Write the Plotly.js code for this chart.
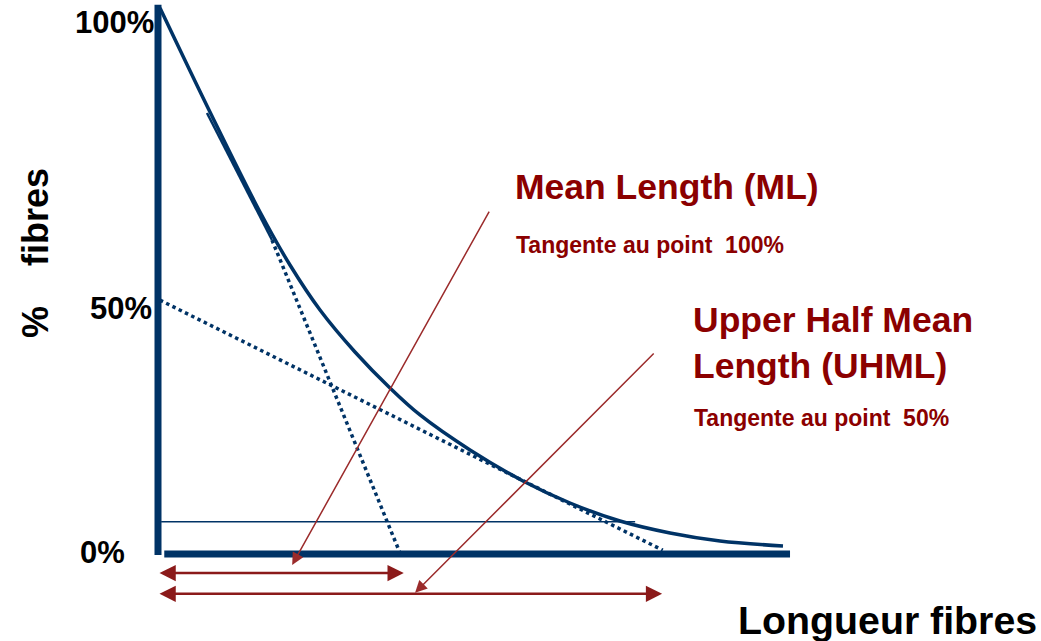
<!DOCTYPE html>
<html>
<head>
<meta charset="utf-8">
<script src="https://cdn.plot.ly/plotly-3.0.1.min.js"></script>
<style>html,body{margin:0;padding:0;background:#fff;}#chart{width:1041px;height:641px;}</style>
</head>
<body>
<div id="chart"></div>
<script>
// ---- Data (length units on x, % fibres on y) ----
const curveX = [0.32, 8.29, 16.27, 21.05, 25.84, 31.42, 37.0, 41.79, 49.76, 58.21, 65.71, 73.68, 81.66, 89.63, 99.68];
const curveY = [100, 80.95, 62.64, 52.93, 44.69, 37.0, 30.4, 25.46, 19.05, 13.37, 9.34, 6.04, 3.85, 2.38, 1.47];

const mlTangentX = [7.81, 18.18, 38.6];
const mlTangentY = [80.77, 57.51, 0.18];

const uhmlTangentX = [0.3, 80.5];
const uhmlTangentY = [46.5, 0.7];

const refLineX = [0.5, 76.1];
const refLineY = [5.9, 5.9];

const axisYLineX = [0, 0];
const axisYLineY = [-0.2, 100.6];
const axisXLineX = [1.0, 100.8];
const axisXLineY = [0, 0];

const mlValue = 39.2;
const uhmlValue = 80.4;
const mlArrowLevel = -3.5;
const uhmlArrowLevel = -7.3;

const mlPointerFrom = [52.95, 63.0];
const mlPointerTo = [21.4, -2.0];
const uhmlPointerFrom = [79.3, 37.0];
const uhmlPointerTo = [41.0, -7.1];

const yTickLabels = ['100%', '50%', '0%'];
const labels = {
  ml: 'Mean Length (ML)',
  mlSub: 'Tangente au point\u00a0 100%',
  uhml: 'Upper Half Mean<br>Length (UHML)',
  uhmlSub: 'Tangente au point\u00a0 50%',
  xTitle: 'Longueur fibres',
  yTitle: '%\u00a0\u00a0\u00a0 fibres'
};

// ---- Styles ----
const W = 1041, H = 641;
const navy = '#003366';
const darkRed = '#8b0000';
const arrowRed = '#8b1a1a';
const FONT = 'Arial, "Liberation Sans", sans-serif';
const px = v => v / W;
const py = v => 1 - v / H;

const traces = [
  {x: axisYLineX, y: axisYLineY, mode: 'lines', line: {color: navy, width: 7}},
  {x: axisXLineX, y: axisXLineY, mode: 'lines', line: {color: navy, width: 7}},
  {x: refLineX, y: refLineY, mode: 'lines', line: {color: navy, width: 1.5}},
  {x: uhmlTangentX, y: uhmlTangentY, mode: 'lines', line: {color: navy, width: 3.5, dash: 'dot'}},
  {x: mlTangentX.slice(1), y: mlTangentY.slice(1), mode: 'lines', line: {color: navy, width: 3.5, dash: 'dot'}},
  {x: mlTangentX.slice(0, 2), y: mlTangentY.slice(0, 2), mode: 'lines', line: {color: navy, width: 2.5}},
  {x: curveX, y: curveY, mode: 'lines', line: {color: navy, width: 3.5, shape: 'spline', smoothing: 1}}
];

function arrow(toX, toY, fromX, fromY, opts) {
  return Object.assign({
    x: toX, y: toY, ax: fromX, ay: fromY,
    xref: 'x', yref: 'y', axref: 'x', ayref: 'y',
    text: '', showarrow: true, arrowcolor: arrowRed,
    arrowhead: 2, arrowsize: 1.6, arrowwidth: 1.5, standoff: 0, startstandoff: 0
  }, opts || {});
}

function txt(text, x, y, size, color, xanchor, extra) {
  return Object.assign({
    text: '<b>' + text + '</b>', x: px(x), y: py(y), xref: 'paper', yref: 'paper',
    showarrow: false, xanchor: xanchor || 'left', yanchor: 'middle', align: 'left',
    font: {family: FONT, size: size, color: color}
  }, extra || {});
}

const annotations = [
  arrow(mlPointerTo[0], mlPointerTo[1], mlPointerFrom[0], mlPointerFrom[1], {arrowcolor: '#9b2b2b'}),
  arrow(uhmlPointerTo[0], uhmlPointerTo[1], uhmlPointerFrom[0], uhmlPointerFrom[1], {arrowcolor: '#9b2b2b'}),
  arrow(mlValue, mlArrowLevel, 0, mlArrowLevel, {arrowside: 'end+start', startarrowhead: 2, arrowwidth: 2.5, arrowsize: 1.3, startarrowsize: 1.3}),
  arrow(uhmlValue, uhmlArrowLevel, 0, uhmlArrowLevel, {arrowside: 'end+start', startarrowhead: 2, arrowwidth: 2.5, arrowsize: 1.3, startarrowsize: 1.3}),
  txt(yTickLabels[0], 156, 23, 31, '#000', 'right'),
  txt(yTickLabels[1], 154, 309, 31, '#000', 'right'),
  txt(yTickLabels[2], 127, 552, 31, '#000', 'right'),
  txt(labels.ml, 513, 187, 35.5, darkRed),
  txt(labels.mlSub, 514, 245, 23, darkRed),
  txt(labels.uhml, 691, 343, 35.5, darkRed),
  txt(labels.uhmlSub, 692, 418, 23, darkRed),
  txt(labels.xTitle, 736, 620, 39.3, '#000'),
  txt(labels.yTitle, 35, 253, 36, '#000', 'center', {textangle: -90})
];

const layout = {
  width: W, height: H, autosize: false,
  margin: {l: 0, r: 0, t: 0, b: 0, pad: 0},
  paper_bgcolor: '#fff', plot_bgcolor: '#fff',
  showlegend: false,
  xaxis: {range: [-158 / 6.27, (W - 158) / 6.27], visible: false, fixedrange: true},
  yaxis: {range: [-(H - 554) / 5.46, 554 / 5.46], visible: false, fixedrange: true},
  annotations: annotations
};

Plotly.newPlot('chart', traces, layout, {displayModeBar: false, staticPlot: true});
</script>
</body>
</html>
